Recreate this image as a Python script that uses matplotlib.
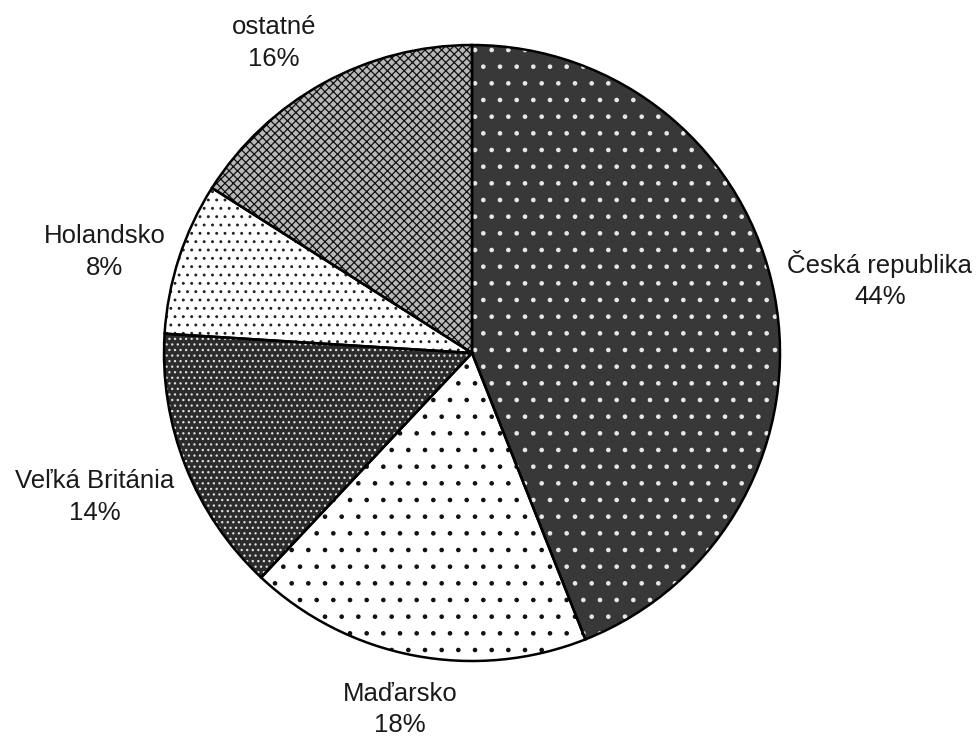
import math
import matplotlib.pyplot as plt

# podiel krajín
krajiny = ["Česká republika", "Maďarsko", "Veľká Británia", "Holandsko", "ostatné"]
podiely = [44, 18, 14, 8, 16]

# vzhľad výsekov (podklad, farba šrafovania, šrafovanie)
podklad = ["#383838", "#ffffff", "#2c2c2c", "#ffffff", "#b8b8b8"]
sraf_farba = ["#e8e8e8", "#111111", "#e0e0e0", "#222222", "#111111"]
srafy = [".", ".", "...", "..", "xxxx"]
# umiestnenie popisov: vzdialenosť od stredu a posun uhla (stupne)
vzdialenost_popisu = [1.345, 1.18, 1.31, 1.236, 1.195]
posun_uhla = [-0.6, -0.6, -0.7, 2.6, 3.8]

plt.rcParams['font.family'] = ['Liberation Sans', 'DejaVu Sans']
plt.rcParams['hatch.linewidth'] = 0.9

fig = plt.figure(figsize=(9.79, 7.37), dpi=100)
r_px = 308
cx, cy = 472, 737 - 353
ax = fig.add_axes([(cx - r_px) / 979, (cy - r_px) / 737, 2 * r_px / 979, 2 * r_px / 737])

# najprv výplň so šrafovaním
wedges, texts = ax.pie(podiely, startangle=90, counterclock=False, radius=1,
                       labels=[f"{k}\n{p}%" for k, p in zip(krajiny, podiely)],
                       labeldistance=1.2)
for w, fc, hc, h in zip(wedges, podklad, sraf_farba, srafy):
    w.set_facecolor(fc)
    w.set_edgecolor(hc)
    w.set_hatch(h)
    w.set_linewidth(0)

# potom obrysy
obrys, _ = ax.pie(podiely, startangle=90, counterclock=False, radius=1,
                  wedgeprops=dict(fill=False, edgecolor="black", linewidth=1.8))

for t, w, d, du in zip(texts, wedges, vzdialenost_popisu, posun_uhla):
    uhol = math.radians((w.theta1 + w.theta2) / 2 + du)
    t.set_position((d * math.cos(uhol), d * math.sin(uhol)))
    t.set_ha("center")
    t.set_va("center")
    t.set_multialignment("center")
    t.set_fontsize(18.5)
    t.set_linespacing(1.38)
    t.set_color("#1a1a1a")

ax.set_xlim(-1, 1)
ax.set_ylim(-1, 1)
ax.set_aspect("equal")
ax.axis("off")

fig.savefig("out.png", dpi=100)
